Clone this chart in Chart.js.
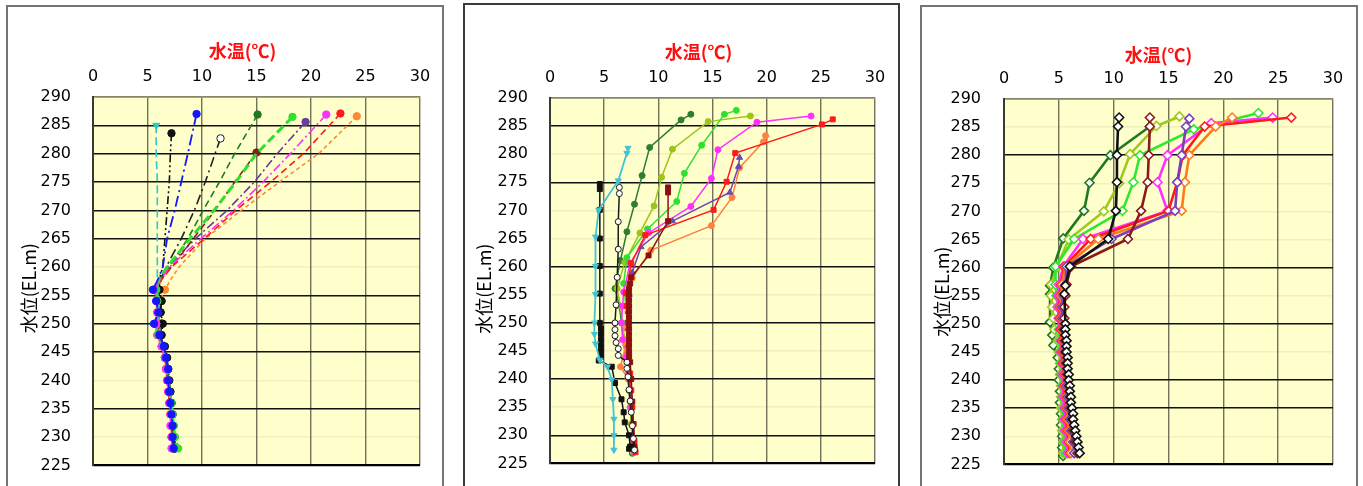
<!DOCTYPE html>
<html>
<head>
<meta charset="utf-8">
<script src="https://cdn.jsdelivr.net/npm/chart.js@4.4.1/dist/chart.umd.min.js"></script>
<style>
  html, body { margin: 0; padding: 0; background: #fff; overflow: hidden; width: 1363px; height: 486px; }
  .panel { position: absolute; box-sizing: border-box; border: 2px solid #747474; background: #fff; height: 520px; }
  #f1 { left: 6px; top: 5px; width: 438px; }
  #f2 { left: 463px; top: 3px; width: 437px; border-color: #3a3a3a; }
  #f3 { left: 920px; top: 5px; width: 438px; }
  canvas { display: block; }
</style>
</head>
<body>
<div class="panel" id="f1"><canvas id="c1" width="434" height="490"></canvas></div>
<div class="panel" id="f2"><canvas id="c2" width="433" height="490"></canvas></div>
<div class="panel" id="f3"><canvas id="c3" width="434" height="490"></canvas></div>
<script>
// ---------- axis labels ----------
const tempTitle = '水温(℃)';
const elevTitle = '水位(EL.m)';

// ---------- panel 1 : water temperature profiles (elevation EL.m / temperature °C) ----------
const p1LowElev = [256, 254, 252, 250, 248, 246, 244, 242, 240, 238, 236, 234, 232, 230, 228];

const p1BlueE = [287.0, 280, 275, 270, 265, 260, 258];
const p1BlueT = [9.5, 8.7, 8.1, 7.5, 6.8, 6.4, 6.0];
const p1BlueLow = [5.5, 5.8, 6.0, 5.6, 6.1, 6.5, 6.7, 6.9, 6.9, 7.0, 7.1, 7.2, 7.3, 7.3, 7.4];

const p1CyanE = [285.0, 280, 275, 270, 265, 260, 258];
const p1CyanT = [5.8, 5.8, 5.9, 5.9, 5.9, 5.9, 5.9];
const p1CyanLow = [5.9, 6.0, 6.1, 6.0, 6.2, 6.5, 6.7, 6.8, 6.9, 7.0, 7.1, 7.2, 7.2, 7.3, 7.4];

const p1BlackE = [283.6, 280, 275, 270, 265, 260, 258];
const p1BlackT = [7.2, 7.1, 7.0, 6.8, 6.6, 6.4, 6.1];
const p1BlackLow = [6.1, 6.3, 6.2, 6.4, 6.3, 6.6, 6.8, 6.9, 7.0, 7.1, 7.2, 7.3, 7.3, 7.4, 7.5];

const p1OpenE = [282.7, 280, 275, 270, 265, 260, 258];
const p1OpenT = [11.7, 11.2, 10.3, 9.3, 8.1, 6.7, 6.3];
const p1OpenLow = [6.0, 6.2, 6.2, 6.3, 6.2, 6.5, 6.7, 6.8, 6.9, 7.0, 7.1, 7.2, 7.3, 7.3, 7.4];

const p1DkGreenE = [286.9, 280, 275, 270, 265, 260, 258];
const p1DkGreenT = [15.1, 13.0, 11.6, 10.1, 8.7, 7.0, 6.1];
const p1DkGreenLow = [5.9, 6.0, 6.0, 5.9, 6.0, 6.4, 6.6, 6.8, 6.9, 7.1, 7.2, 7.3, 7.4, 7.5, 7.6];

const p1MaroonE = [280.2, 275, 270, 265, 260, 258];
const p1MaroonT = [15.0, 13.0, 11.2, 9.2, 7.2, 6.3];
const p1MaroonLow = [5.8, 6.1, 6.1, 6.0, 6.1, 6.5, 6.7, 6.8, 6.9, 7.0, 7.2, 7.2, 7.3, 7.4, 7.5];

const p1BrGreenE = [286.5, 280, 275, 270, 265, 260, 258];
const p1BrGreenT = [18.3, 15.0, 13.1, 11.1, 8.9, 6.8, 6.1];
const p1BrGreenLow = [5.8, 5.9, 5.9, 5.8, 5.9, 6.3, 6.6, 6.8, 6.9, 7.0, 7.2, 7.3, 7.4, 7.5, 7.8];

const p1PurpleE = [285.6, 280, 275, 270, 265, 260, 258];
const p1PurpleT = [19.5, 16.9, 14.8, 12.3, 9.4, 6.8, 6.2];
const p1PurpleLow = [5.7, 5.9, 6.0, 5.8, 6.0, 6.4, 6.6, 6.8, 6.9, 7.0, 7.1, 7.2, 7.3, 7.3, 7.5];

const p1MagentaE = [286.9, 280, 275, 270, 265, 260, 258];
const p1MagentaT = [21.4, 18.1, 15.6, 12.9, 9.9, 7.0, 6.3];
const p1MagentaLow = [5.6, 5.8, 5.9, 5.8, 6.0, 6.3, 6.6, 6.7, 6.8, 6.9, 7.0, 7.1, 7.1, 7.2, 7.2];

const p1RedE = [287.1, 280, 275, 270, 265, 260, 258];
const p1RedT = [22.7, 19.3, 16.3, 13.1, 10.2, 7.2, 6.4];
const p1RedLow = [5.6, 5.9, 5.9, 5.7, 5.9, 6.3, 6.6, 6.7, 6.8, 6.9, 7.0, 7.1, 7.2, 7.2, 7.3];

const p1OrangeE = [286.6, 280, 275, 270, 265, 260, 258];
const p1OrangeT = [24.2, 20.7, 17.1, 13.6, 10.3, 7.9, 7.2];
const p1OrangeLow = [6.6, 6.1, 6.0, 5.9, 6.1, 6.4, 6.6, 6.8, 6.9, 7.0, 7.1, 7.2, 7.3, 7.3, 7.4];

// ---------- panel 2 ----------
const p2DkGreenE = [287.1, 286.1, 281.2, 276.2, 271.1, 266.2, 261.1, 256.1, 253, 250, 247, 244, 241, 238, 235, 232, 229, 226.8];
const p2DkGreenT = [13.0, 12.1, 9.2, 8.5, 7.8, 7.1, 6.5, 6.0, 6.4, 6.6, 6.8, 7.0, 7.2, 7.3, 7.4, 7.5, 7.6, 7.6];

const p2YGreenE = [286.8, 285.8, 280.9, 275.9, 270.8, 266.0, 260.8, 256.1, 253, 250, 247, 244, 241, 238, 235, 232, 229, 227];
const p2YGreenT = [18.5, 14.6, 11.3, 10.3, 9.6, 8.3, 6.9, 6.2, 6.5, 6.7, 6.9, 7.0, 7.2, 7.3, 7.4, 7.5, 7.6, 7.7];

const p2BrGreenE = [287.8, 287.1, 281.6, 276.6, 271.6, 266.7, 261.6, 257.0, 253, 250, 247, 244, 241, 238, 235, 232, 229, 227];
const p2BrGreenT = [17.2, 16.1, 14.0, 12.4, 11.7, 9.0, 7.1, 6.8, 7.0, 7.1, 7.2, 7.2, 7.3, 7.4, 7.5, 7.6, 7.7, 7.8];

const p2MagentaE = [286.8, 285.7, 280.8, 275.7, 270.7, 266.0, 260.6, 255.5, 253, 250, 247, 244, 241, 238, 235, 232, 229, 227];
const p2MagentaT = [24.1, 19.1, 15.5, 14.9, 13.0, 9.1, 7.4, 6.8, 6.7, 6.6, 6.7, 7.0, 7.3, 7.4, 7.5, 7.6, 7.7, 7.8];

const p2RedE = [286.2, 285.3, 280.2, 275.1, 270.1, 265.6, 260.6, 255.3, 253, 250, 247, 244, 241, 238, 235, 232, 229, 227];
const p2RedT = [26.1, 25.1, 17.1, 16.3, 15.1, 8.8, 7.5, 7.0, 7.1, 7.2, 7.3, 7.3, 7.4, 7.5, 7.6, 7.7, 7.8, 7.9];

const p2OrangeE = [283.3, 282.2, 277.6, 272.3, 267.3, 262.9, 258.0, 255, 252, 249, 246, 242.2, 240, 236, 232, 228];
const p2OrangeT = [19.9, 19.7, 17.5, 16.8, 14.9, 9.3, 7.6, 7.3, 7.2, 7.1, 7.0, 6.5, 7.2, 7.4, 7.6, 7.8];

const p2PurpleE = [279.4, 277.8, 273.2, 268.1, 263.5, 259.0, 255, 252, 249, 246, 243, 240, 236, 232, 228];
const p2PurpleT = [17.5, 17.4, 16.6, 11.3, 8.4, 7.6, 7.3, 7.2, 7.2, 7.2, 7.3, 7.4, 7.5, 7.6, 7.8];

const p2MaroonE = [274.1, 273.2, 268.1, 262.0, 258.1, 257, 256, 255, 254, 253, 252, 251, 250, 249, 248, 247, 246, 245, 244, 243, 240, 236, 232, 228];
const p2MaroonT = [10.9, 10.9, 10.9, 9.1, 7.5, 7.4, 7.3, 7.3, 7.3, 7.3, 7.3, 7.3, 7.3, 7.3, 7.3, 7.3, 7.3, 7.3, 7.3, 7.4, 7.5, 7.6, 7.7, 7.8];

const p2CyanE = [281.1, 280.2, 275.3, 270.1, 265.3, 260.1, 255.1, 250.0, 248.0, 246.3, 243.4, 242.2, 239.9, 236.4, 232.9, 230.0, 227.4];
const p2CyanT = [7.2, 7.1, 6.3, 4.5, 4.2, 4.2, 4.2, 4.1, 4.1, 4.2, 4.6, 5.3, 5.7, 5.8, 5.9, 5.9, 5.9];

const p2BlackE = [274.7, 273.8, 270.1, 265.0, 260.1, 255.2, 250.0, 249, 248, 247, 246, 245, 244, 243.3, 242.2, 239.3, 236.4, 234.1, 232.3, 230.0, 228.0, 227.6];
const p2BlackT = [4.6, 4.6, 4.6, 4.6, 4.6, 4.6, 4.6, 4.7, 4.7, 4.7, 4.7, 4.7, 4.7, 4.5, 5.7, 6.0, 6.6, 6.8, 6.9, 7.3, 7.4, 7.3];

const p2OpenE = [274.1, 273.0, 268.0, 263.1, 258.1, 253.2, 250.0, 248.8, 247.7, 246.5, 245.4, 244.2, 243.0, 241.9, 240.4, 238.1, 236.1, 234.1, 231.7, 229.4, 227.4];
const p2OpenT = [6.4, 6.4, 6.3, 6.3, 6.2, 6.1, 6.0, 6.0, 6.0, 6.1, 6.3, 6.3, 7.1, 7.1, 7.2, 7.3, 7.4, 7.5, 7.6, 7.7, 7.8];

// ---------- panel 3 ----------
const p3LowElev = [257, 255, 253, 251, 249, 247, 245, 243, 241, 239, 237, 235, 233, 231, 229, 227];

const p3BlackE = [286.7, 285.1, 280, 275.2, 270.1, 265.1, 260.2, 256.8, 255.3, 250, 249, 248, 247, 246, 245, 244, 243, 242, 241, 240, 239, 238, 237, 236, 235, 234, 233, 232, 231, 230, 229, 228, 227];
const p3BlackT = [10.5, 10.4, 10.3, 10.3, 10.2, 9.5, 6.0, 5.6, 5.5, 5.6, 5.6, 5.6, 5.7, 5.7, 5.7, 5.8, 5.8, 5.8, 5.9, 5.9, 6.0, 6.0, 6.1, 6.1, 6.2, 6.3, 6.3, 6.4, 6.5, 6.6, 6.7, 6.8, 6.9];

const p3MaroonE = [286.7, 285.1, 280, 275.2, 270.1, 265.1, 260.2];
const p3MaroonT = [13.3, 13.3, 13.2, 13.1, 12.5, 11.3, 6.1];
const p3MaroonLow = [5.7, 5.6, 5.5, 5.5, 5.5, 5.6, 5.6, 5.7, 5.8, 5.9, 6.0, 6.1, 6.2, 6.3, 6.5, 6.7];

const p3PurpleE = [286.5, 285.1, 280, 275.2, 270.1, 265.1, 260.2];
const p3PurpleT = [16.9, 16.6, 16.2, 15.8, 15.6, 9.8, 5.7];
const p3PurpleLow = [5.6, 5.4, 5.3, 5.3, 5.4, 5.5, 5.5, 5.6, 5.7, 5.7, 5.8, 5.9, 6.0, 6.1, 6.3, 6.4];

const p3OrangeE = [286.7, 285.1, 280, 275.2, 270.1, 265.1, 260.2];
const p3OrangeT = [20.8, 19.3, 16.9, 16.5, 16.2, 8.6, 5.6];
const p3OrangeLow = [5.3, 5.2, 5.2, 5.2, 5.3, 5.4, 5.4, 5.5, 5.6, 5.6, 5.7, 5.8, 5.8, 5.9, 6.0, 6.1];

const p3RedE = [286.7, 285.1, 280, 275.2, 270.1, 265.1, 260.2];
const p3RedT = [26.2, 18.3, 16.3, 15.8, 15.0, 7.9, 5.5];
const p3RedLow = [5.2, 5.1, 5.1, 5.1, 5.2, 5.3, 5.3, 5.4, 5.5, 5.5, 5.6, 5.7, 5.7, 5.8, 5.9, 6.0];

const p3MagentaE = [286.7, 285.7, 280, 275.2, 270.1, 265.1, 260.2];
const p3MagentaT = [24.5, 18.9, 14.9, 14.0, 14.9, 7.2, 5.4];
const p3MagentaLow = [5.0, 4.9, 4.9, 5.0, 5.1, 5.2, 5.2, 5.3, 5.3, 5.4, 5.4, 5.5, 5.5, 5.6, 5.7, 5.8];

const p3BrGreenE = [287.5, 284.6, 280, 275.2, 270.1, 265.1, 260.2];
const p3BrGreenT = [23.2, 17.3, 12.4, 11.8, 10.8, 6.4, 4.7];
const p3BrGreenLow = [4.7, 4.8, 4.9, 5.0, 5.0, 5.1, 5.1, 5.2, 5.2, 5.3, 5.3, 5.4, 5.4, 5.5, 5.5, 5.6];

const p3YGreenE = [286.9, 285.2, 280.2, 275, 270, 265, 260];
const p3YGreenT = [16.0, 13.9, 11.5, 10.5, 9.1, 5.9, 4.8];
const p3YGreenLow = [4.3, 4.3, 4.4, 4.5, 4.6, 4.9, 5.0, 5.1, 5.1, 5.2, 5.2, 5.2, 5.3, 5.3, 5.4, 5.4];

const p3DkGreenE = [285.1, 280, 275.1, 270.1, 265.2, 260, 256.8, 255.3, 250.3, 248, 246.2, 244, 242, 240, 238, 236, 234, 232, 230, 228, 226.5];
const p3DkGreenT = [13.3, 9.7, 7.8, 7.3, 5.4, 4.5, 4.2, 4.2, 4.2, 4.4, 4.5, 4.9, 5.0, 5.0, 5.1, 5.1, 5.2, 5.2, 5.3, 5.3, 5.4];

// horizontal grid rows that print dark in each panel
const p1DarkRows = [285, 280, 275, 270, 265, 255, 250, 245, 235];
const p2DarkRows = [285, 275, 260, 250, 240, 230];
const p3DarkRows = [280, 260, 250, 240, 235];

// ---------- helpers ----------
function pts(E, T) { return E.map((e, i) => ({ x: T[i], y: e })); }

const plotBg = {
  id: 'plotBg',
  beforeDraw(chart) {
    const a = chart.chartArea, c = chart.ctx;
    c.save();
    c.fillStyle = '#ffffcc';
    c.fillRect(a.left, a.top, a.right - a.left, a.bottom - a.top);
    c.restore();
  }
};

const panelText = {
  id: 'panelText',
  afterDraw(chart, args, o) {
    const a = chart.chartArea, c = chart.ctx;
    c.save();
    c.textAlign = 'center';
    c.textBaseline = 'middle';
    c.fillStyle = '#ff1010';
    c.font = 'bold 18px "Noto Sans CJK JP"';
    c.fillText(tempTitle, (a.left + a.right) / 2 + o.titleDx, a.top - o.titleDy);
    c.translate(a.left - o.yTitleDx, (a.top + a.bottom) / 2 + o.yTitleDy);
    c.rotate(-Math.PI / 2);
    c.fillStyle = '#000';
    c.font = '18px "Noto Sans CJK JP"';
    c.fillText(elevTitle, 0, 0);
    c.restore();
  }
};

const tickFont = { family: 'DejaVu Sans', size: 16 };

function makeChart(id, datasets, g) {
  return new Chart(document.getElementById(id), {
    type: 'scatter',
    data: { datasets },
    plugins: [plotBg, panelText],
    options: {
      responsive: false,
      animation: false,
      events: [],
      layout: { padding: { left: 0, top: 0, right: g.padRight, bottom: g.padBottom } },
      plugins: {
        legend: { display: false },
        tooltip: { enabled: false },
        panelText: { titleDx: g.titleDx, titleDy: g.titleDy, yTitleDx: g.yTitleDx, yTitleDy: g.yTitleDy }
      },
      scales: {
        x: {
          type: 'linear', position: 'top', min: 0, max: 30,
          afterFit: s => { s.height = g.xHeight; },
          ticks: { stepSize: 5, padding: 11, font: tickFont, color: '#000', maxRotation: 0, autoSkip: false },
          grid: { color: '#72725a', lineWidth: 1.4, drawTicks: false },
          border: { display: true, color: '#85856a', width: 1.4 }
        },
        y: {
          type: 'linear', min: 225, max: 290,
          afterFit: s => { s.width = g.yWidth; },
          ticks: { stepSize: 5, padding: g.yPad, font: tickFont, color: '#000', autoSkip: false },
          grid: {
            drawTicks: false,
            color: c => {
              const v = c.tick ? c.tick.value : 0;
              if (v === 225) return '#000';
              if (v === 290) return '#85856a';
              return g.darkRows.includes(v) ? '#111' : 'rgba(110,110,70,0.10)';
            },
            lineWidth: c => {
              const v = c.tick ? c.tick.value : 0;
              return v === 225 ? 2.2 : 1.5;
            }
          },
          border: { display: true, color: '#3a3a30', width: 2 }
        }
      }
    }
  });
}

// ---------- panel 1 datasets (dashed profiles, markers at surface and below 256 m) ----------
function p1Line(E, T, low, color, dash, o = {}) {
  const r = o.r || 3.7;
  return {
    data: pts(E.concat(p1LowElev), T.concat(low)),
    showLine: true,
    borderColor: color,
    borderWidth: o.w || 1.6,
    borderDash: dash,
    pointStyle: o.style || 'circle',
    rotation: o.rot || 0,
    pointBackgroundColor: o.fill || color,
    pointBorderColor: color,
    pointBorderWidth: 1,
    pointRadius: c => (!c.raw || c.dataIndex === 0 || c.raw.y <= 256.5) ? r : 0
  };
}

makeChart('c1', [
  p1Line(p1BlueE, p1BlueT, p1BlueLow, '#1515ff', [11, 4, 2, 4], { w: 1.8 }),
  p1Line(p1MagentaE, p1MagentaT, p1MagentaLow, '#ff30ff', [9, 3, 2, 3]),
  p1Line(p1BrGreenE, p1BrGreenT, p1BrGreenLow, '#2fe02f', [9, 4], { w: 3 }),
  p1Line(p1RedE, p1RedT, p1RedLow, '#ff1a1a', [7, 4]),
  p1Line(p1BlackE, p1BlackT, p1BlackLow, '#111111', [8, 3, 2, 3, 2, 3]),
  p1Line(p1CyanE, p1CyanT, p1CyanLow, '#2ec8c8', [8, 4], { style: 'triangle', rot: 180, r: 4 }),
  p1Line(p1OpenE, p1OpenT, p1OpenLow, '#222222', [10, 4, 2, 4], { fill: '#ffffff' }),
  p1Line(p1DkGreenE, p1DkGreenT, p1DkGreenLow, '#1f7a1f', [7, 4]),
  p1Line(p1MaroonE, p1MaroonT, p1MaroonLow, '#8b1a1a', [7, 4]),
  p1Line(p1PurpleE, p1PurpleT, p1PurpleLow, '#6a3d9a', [9, 3, 2, 3]),
  p1Line(p1OrangeE, p1OrangeT, p1OrangeLow, '#ff8833', [4, 3])
], { padRight: 22, padBottom: 26, xHeight: 90, yWidth: 85, yPad: 22,
     titleDx: -14, titleDy: 46, yTitleDx: 64, yTitleDy: 7, darkRows: p1DarkRows });

// ---------- panel 2 datasets (solid profiles with markers) ----------
function p2Line(E, T, color, o = {}) {
  return {
    data: pts(E, T),
    showLine: true,
    borderColor: color,
    borderWidth: o.w || 1.5,
    pointStyle: o.style || 'circle',
    rotation: o.rot || 0,
    pointRadius: o.r || 3,
    pointBackgroundColor: o.fill || color,
    pointBorderColor: color,
    pointBorderWidth: 1
  };
}

makeChart('c2', [
  p2Line(p2CyanE, p2CyanT, '#40c4d4', { style: 'triangle', rot: 180, r: 3.5, w: 1.8 }),
  p2Line(p2OpenE, p2OpenT, '#1a1a1a', { fill: '#ffffff', r: 3 }),
  p2Line(p2BlackE, p2BlackT, '#111111', { style: 'rect', r: 3.5 }),
  p2Line(p2MaroonE, p2MaroonT, '#8b1010', { style: 'rect', r: 3.5 }),
  p2Line(p2RedE, p2RedT, '#ff1a1a', { style: 'rect', r: 3.5 }),
  p2Line(p2PurpleE, p2PurpleT, '#6a4ab0', { style: 'triangle', r: 3.5 }),
  p2Line(p2OrangeE, p2OrangeT, '#ff8040'),
  p2Line(p2MagentaE, p2MagentaT, '#ff30ff'),
  p2Line(p2BrGreenE, p2BrGreenT, '#30e030'),
  p2Line(p2YGreenE, p2YGreenT, '#9cc41c'),
  p2Line(p2DkGreenE, p2DkGreenT, '#2e7d32')
], { padRight: 23, padBottom: 23, xHeight: 93, yWidth: 85, yPad: 22,
     titleDx: -14, titleDy: 46, yTitleDx: 66, yTitleDy: 8, darkRows: p2DarkRows });

// ---------- panel 3 datasets (thick profiles, open diamond markers) ----------
function p3Line(E, T, color, o = {}) {
  return {
    data: pts(E, T),
    showLine: true,
    borderColor: color,
    borderWidth: o.w || 2.6,
    pointStyle: 'rectRot',
    pointRadius: 4.5,
    pointBackgroundColor: '#ffffff',
    pointBorderColor: color,
    pointBorderWidth: 1.6
  };
}

makeChart('c3', [
  p3Line(p3BlackE, p3BlackT, '#111111'),
  p3Line(p3MaroonE.concat(p3LowElev), p3MaroonT.concat(p3MaroonLow), '#8b1a1a'),
  p3Line(p3PurpleE.concat(p3LowElev), p3PurpleT.concat(p3PurpleLow), '#7a3fc0'),
  p3Line(p3OrangeE.concat(p3LowElev), p3OrangeT.concat(p3OrangeLow), '#ff7a1a'),
  p3Line(p3RedE.concat(p3LowElev), p3RedT.concat(p3RedLow), '#ff1a1a'),
  p3Line(p3MagentaE.concat(p3LowElev), p3MagentaT.concat(p3MagentaLow), '#ff30ff'),
  p3Line(p3BrGreenE.concat(p3LowElev), p3BrGreenT.concat(p3BrGreenLow), '#2ee82e'),
  p3Line(p3YGreenE.concat(p3LowElev), p3YGreenT.concat(p3YGreenLow), '#a0c81e'),
  p3Line(p3DkGreenE, p3DkGreenT, '#1f7a1f')
], { padRight: 23, padBottom: 27, xHeight: 92, yWidth: 82, yPad: 23,
     titleDx: -10, titleDy: 44, yTitleDx: 62, yTitleDy: 10, darkRows: p3DarkRows });
</script>
</body>
</html>
